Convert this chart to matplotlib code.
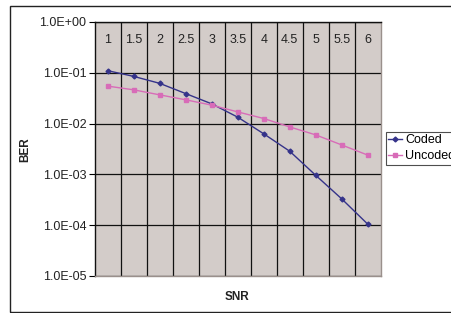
import matplotlib.pyplot as plt
from matplotlib.patches import Rectangle
from matplotlib.ticker import FixedLocator

snr = ["1", "1.5", "2", "2.5", "3", "3.5", "4", "4.5", "5", "5.5", "6"]
coded = [0.11, 0.085, 0.062, 0.039, 0.0245, 0.0134, 0.0063, 0.00286, 0.00096, 0.00033, 0.000105]
uncoded = [0.0547, 0.0462, 0.0368, 0.0294, 0.0231, 0.0170, 0.0126, 0.0086, 0.0060, 0.0038, 0.0024]
y_ticks = [1e0, 1e-1, 1e-2, 1e-3, 1e-4, 1e-5]
y_labels = ["1.0E+00", "1.0E-01", "1.0E-02", "1.0E-03", "1.0E-04", "1.0E-05"]

plt.rcParams["font.family"] = ["Liberation Sans", "DejaVu Sans"]

fig = plt.figure(figsize=(4.52, 3.13), dpi=100)
fig.patches.append(Rectangle((10 / 452, 1 / 313), 1.0, 306 / 313, transform=fig.transFigure,
                             fill=False, edgecolor="#222222", linewidth=1.0, clip_on=False))

ax = fig.add_axes([94.7 / 452, 1 - 276 / 313, 286 / 452, 254 / 313])
ax.set_facecolor("#D3CCC9")

x = list(range(len(snr)))
ax.plot(x, coded, color="#35338A", marker="D", markersize=2.5, linewidth=1.0, label="Coded")
ax.plot(x, uncoded, color="#D86CB8", marker="s", markersize=3.5, linewidth=1.0, label="Uncoded")

ax.set_yscale("log")
ax.set_ylim(1e-5, 1e0)
ax.set_xlim(-0.5, len(snr) - 0.5)
ax.set_yticks(y_ticks)
ax.set_yticklabels(y_labels, fontsize=9, color="#222222")
ax.yaxis.set_minor_locator(FixedLocator([]))
ax.tick_params(axis="y", which="major", direction="out", length=4, width=0.8, pad=2)

ax.set_xticks([i + 0.5 for i in x[:-1]])
ax.set_xticklabels([])
ax.tick_params(axis="x", length=0)
ax.grid(True, axis="both", color="#111111", linewidth=0.9)
ax.set_axisbelow(True)

for i, lab in enumerate(snr):
    ax.text(i, 0.928, lab, transform=ax.get_xaxis_transform(), ha="center", va="center",
            fontsize=9, color="#222222")

ax.spines["top"].set_color("#111111")
ax.spines["left"].set_color("#111111")
ax.spines["right"].set_color("#9A908C")
ax.spines["bottom"].set_color("#9A908C")
for s in ax.spines.values():
    s.set_linewidth(1.0)

fig.text(25 / 452, 1 - 150 / 313, "BER", rotation=90, ha="center", va="center",
         fontsize=8.5, fontweight="bold", color="#222222")
fig.text(237 / 452, 1 - 297 / 313, "SNR", ha="center", va="center",
         fontsize=8.5, fontweight="bold", color="#222222")

leg = fig.legend(loc="upper left", bbox_to_anchor=(385.7 / 452, 1 - 132 / 313), fontsize=9,
                 frameon=True, fancybox=False, edgecolor="#222222", handlelength=1.1,
                 handletextpad=0.25, borderpad=0.2, labelspacing=0.3, borderaxespad=0)
leg.get_frame().set_linewidth(0.8)

fig.savefig("out.png", dpi=100)
